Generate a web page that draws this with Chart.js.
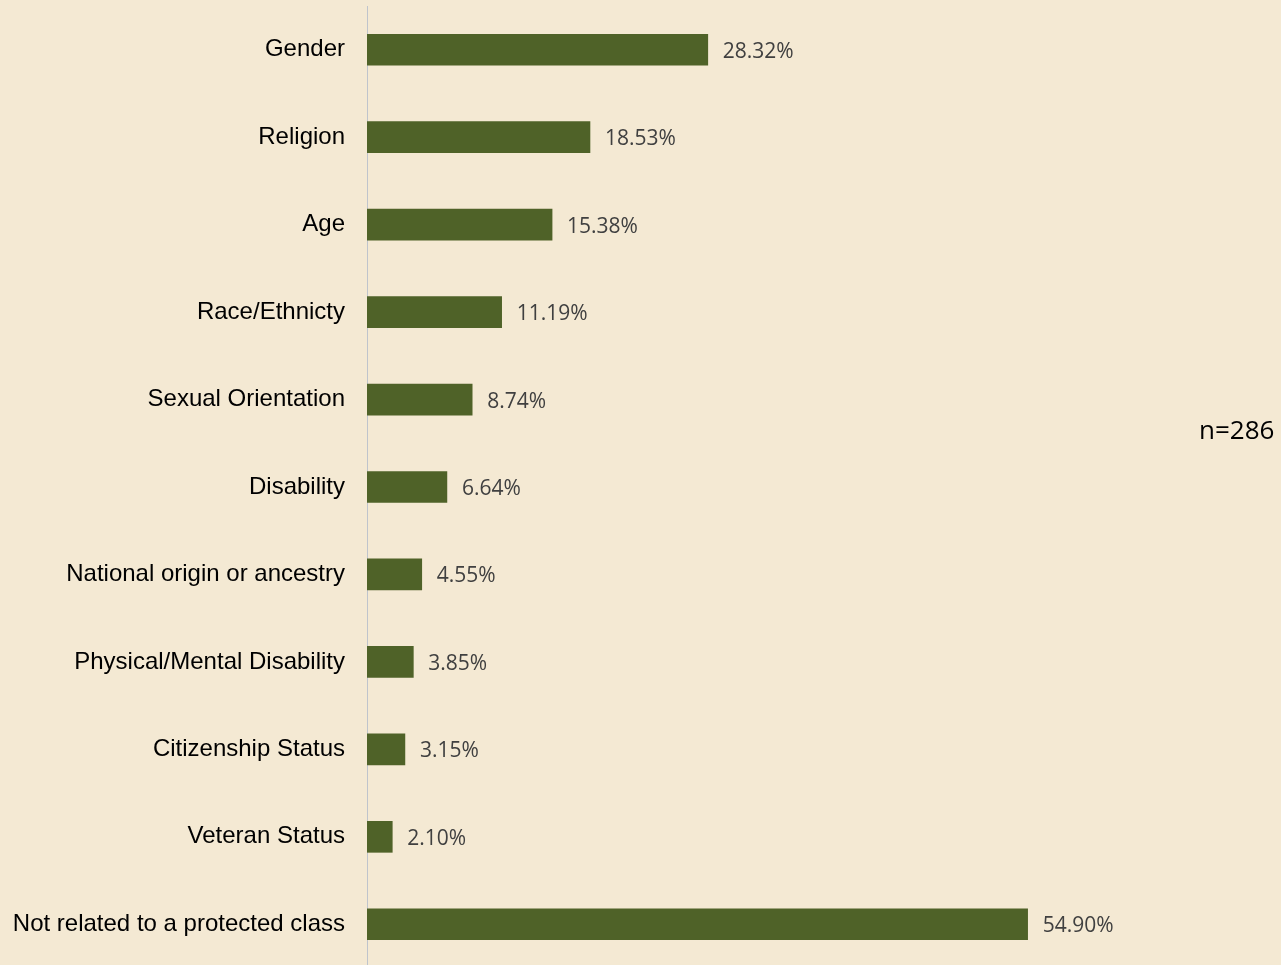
<!DOCTYPE html>
<html>
<head>
<meta charset="utf-8">
<script src="https://cdn.jsdelivr.net/npm/chart.js@4/dist/chart.umd.min.js"></script>
<style>
  html, body { margin: 0; padding: 0; overflow: hidden; background: #F4E9D3; }
  #wrap { position: relative; width: 1281px; height: 968px; }
</style>
</head>
<body>
<div id="wrap"><canvas id="chart-area" width="1281" height="968"></canvas></div>
<script>
var categories = [
  'Gender',
  'Religion',
  'Age',
  'Race/Ethnicty',
  'Sexual Orientation',
  'Disability',
  'National origin or ancestry',
  'Physical/Mental Disability',
  'Citizenship Status',
  'Veteran Status',
  'Not related to a protected class'
];
var percents = [28.32, 18.53, 15.38, 11.19, 8.74, 6.64, 4.55, 3.85, 3.15, 2.10, 54.90];
var sampleNote = 'n=286';

// value labels at the end of each bar, plus the sample size note
var barLabels = {
  id: 'barLabels',
  afterDatasetsDraw: function(chart) {
    var ctx = chart.ctx;
    var meta = chart.getDatasetMeta(0);
    ctx.save();
    ctx.font = '21px "Open Sans"';
    ctx.fillStyle = '#404040';
    ctx.textAlign = 'left';
    ctx.textBaseline = 'middle';
    meta.data.forEach(function(bar, i) {
      ctx.fillText(percents[i].toFixed(2) + '%', bar.x + 15, bar.y + 2);
    });
    ctx.font = '26px "Open Sans"';
    ctx.fillStyle = '#000';
    ctx.fillText(sampleNote, 1199, 432);
    ctx.restore();
  }
};

var config = {
  type: 'bar',
  data: {
    labels: categories,
    datasets: [{
      data: percents,
      backgroundColor: '#4F6228',
      barThickness: 31
    }]
  },
  options: {
    indexAxis: 'y',
    responsive: false,
    animation: false,
    layout: { padding: { top: 6, right: 192, bottom: 0, left: 0 } },
    plugins: {
      legend: { display: false },
      tooltip: { enabled: false }
    },
    scales: {
      x: {
        display: false,
        min: 0,
        max: 60
      },
      y: {
        afterFit: function(scale) {
          scale.width = 367;
          // labels sit in the middle of their bands, no extra room needed
          scale.paddingTop = 0;
          scale.paddingBottom = 0;
        },
        grid: { display: false, drawTicks: false },
        border: { display: true, color: '#BFC4CC', width: 1 },
        ticks: {
          padding: 22,
          color: '#000',
          font: { family: '"Liberation Sans", Arial, sans-serif', size: 24 }
        }
      }
    }
  },
  plugins: [barLabels]
};

window.onload = function() {
  var ctx = document.getElementById('chart-area').getContext('2d');
  window.myBar = new Chart(ctx, config);
};
</script>
</body>
</html>
